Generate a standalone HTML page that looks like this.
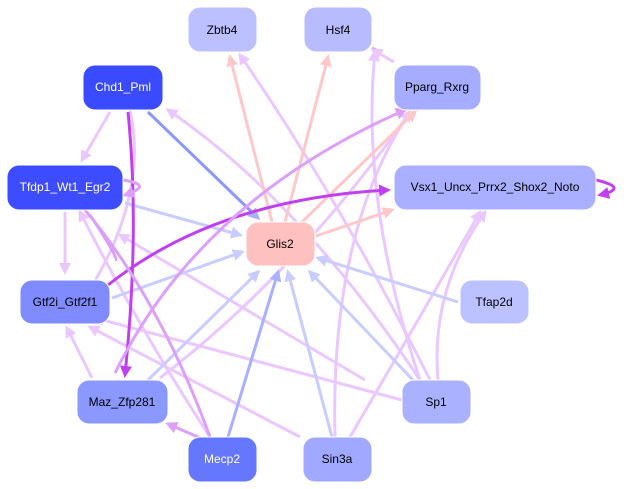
<!DOCTYPE html>
<html><head><style>
html,body{margin:0;padding:0;background:#fff;}
svg{display:block;}
text{font-family:"Liberation Sans",sans-serif;font-size:12px;text-anchor:middle;dominant-baseline:central;}
</style></head><body>
<svg width="628" height="489" viewBox="0 0 628 489">
<defs>
<marker id="a1" markerWidth="4" markerHeight="4" refX="3" refY="2" orient="auto" markerUnits="strokeWidth"><path d="M0,0L4,2L0,4z" fill="#c8ccff"/></marker>
<marker id="a2" markerWidth="4" markerHeight="4" refX="3" refY="2" orient="auto" markerUnits="strokeWidth"><path d="M0,0L4,2L0,4z" fill="#eac8ff"/></marker>
<marker id="a3" markerWidth="4" markerHeight="4" refX="3" refY="2" orient="auto" markerUnits="strokeWidth"><path d="M0,0L4,2L0,4z" fill="#ffc8c8"/></marker>
<marker id="a4" markerWidth="4" markerHeight="4" refX="3" refY="2" orient="auto" markerUnits="strokeWidth"><path d="M0,0L4,2L0,4z" fill="#c040f0"/></marker>
<marker id="a5" markerWidth="4" markerHeight="4" refX="3" refY="2" orient="auto" markerUnits="strokeWidth"><path d="M0,0L4,2L0,4z" fill="#dca0f8"/></marker>
<marker id="a6" markerWidth="4" markerHeight="4" refX="3" refY="2" orient="auto" markerUnits="strokeWidth"><path d="M0,0L4,2L0,4z" fill="#a8b0ff"/></marker>
</defs>
<g fill="none" stroke-width="3">
<!-- light purple edges -->
<g stroke="#eac8ff" marker-end="url(#a2)">
<path d="M110,112 L82,160"/>
<path d="M420,380 Q300,200 168,110"/>
<path d="M430,380 Q340,200 240,55"/>
<path d="M420,380 Q360,200 375,52"/>
<path d="M402,400 L95,318"/>
<path d="M300,437 L90,327"/>
<path d="M92,378 L67,328"/>
<path d="M365,380 L120,235"/>
<path d="M335,437 Q330,230 410,112"/>
<path d="M350,437 Q430,300 480,212"/>
<path d="M438,380 Q430,290 485,212"/>
<path d="M160,378 Q300,270 410,112"/>
<path d="M130,110 Q150,200 80,305"/>
<path d="M210,437 Q140,330 80,212"/>
<path d="M65,212 L65,272"/>
</g>
<!-- blue-ish edges -->
<g stroke="#c8ccff" marker-end="url(#a1)">
<path d="M125,203 L240,235"/>
<path d="M112,298 L242,252"/>
<path d="M148,380 L258,272"/>
<path d="M332,437 L288,272"/>
<path d="M413,380 L310,272"/>
<path d="M458,302 L318,258"/>
</g>
<path d="M148,112 L258,218" stroke="#8a98f8" marker-end="url(#a6)"/>
<path d="M228,437 L278,272" stroke="#a8b0ff" marker-end="url(#a6)"/>
<!-- pink edges -->
<g stroke="#ffc8c8" marker-end="url(#a3)">
<path d="M272,222 L230,57"/>
<path d="M285,222 L328,57"/>
<path d="M302,222 L415,112"/>
<path d="M316,236 L392,210"/>
</g>
<!-- strong purple -->
<path d="M128,112 Q140,230 125,375" stroke="#c040f0" marker-end="url(#a4)"/>
<path d="M88,302 Q200,200 388,190" stroke="#c040f0" marker-end="url(#a4)"/>
<path d="M115,373 Q200,200 405,110" stroke="#dca0f8" marker-end="url(#a5)"/>
<path d="M205,440 L168,424" stroke="#dca0f8" marker-end="url(#a5)"/>
<path d="M380,52 L372,48" stroke="#dca0f8"/>
<path d="M394,62 L373,50" stroke="#eac8ff" marker-end="url(#a2)"/>
<path d="M90,215 Q120,260 115,260 M85,210 Q160,300 210,437" stroke="#dca0f8"/>
<path d="M123,180 Q155,185 125,195" stroke="#dca0f8" marker-end="url(#a5)"/>
<path d="M596,180 Q630,188 600,195" stroke="#c040f0" marker-end="url(#a4)"/>
</g>
<!-- nodes -->
<g stroke="#fff" stroke-width="1">
<rect x="188" y="7" width="69" height="45" rx="12" fill="#bcc0ff"/>
<rect x="304" y="7" width="68" height="45" rx="12" fill="#b8bcff"/>
<rect x="83" y="65" width="80" height="45" rx="12" fill="#3a4aff"/>
<rect x="394" y="65" width="87" height="45" rx="12" fill="#a6acff"/>
<rect x="7" y="165" width="116" height="45" rx="12" fill="#3d4cff"/>
<rect x="394" y="165" width="202" height="45" rx="12" fill="#aab0ff"/>
<rect x="246" y="222" width="69" height="44" rx="12" fill="#ffc0c0"/>
<rect x="20" y="280" width="90" height="44" rx="12" fill="#7f8bff"/>
<rect x="460" y="280" width="69" height="44" rx="12" fill="#bcc2ff"/>
<rect x="77" y="380" width="91" height="44" rx="12" fill="#8a98ff"/>
<rect x="402" y="380" width="69" height="44" rx="12" fill="#aab2ff"/>
<rect x="188" y="437" width="69" height="45" rx="12" fill="#6677ff"/>
<rect x="303" y="437" width="69" height="45" rx="12" fill="#a0a8ff"/>
</g>
<g fill="#000">
<text x="222" y="30">Zbtb4</text>
<text x="338" y="30">Hsf4</text>
<text x="123" y="87" fill="#fff">Chd1_Pml</text>
<text x="437" y="87">Pparg_Rxrg</text>
<text x="65" y="187" fill="#fff">Tfdp1_Wt1_Egr2</text>
<text x="495" y="187">Vsx1_Uncx_Prrx2_Shox2_Noto</text>
<text x="280" y="244">Glis2</text>
<text x="65" y="302">Gtf2i_Gtf2f1</text>
<text x="494" y="302">Tfap2d</text>
<text x="122" y="402">Maz_Zfp281</text>
<text x="436" y="402">Sp1</text>
<text x="222" y="459" fill="#fff">Mecp2</text>
<text x="337" y="459">Sin3a</text>
</g>
</svg>
</body></html>
